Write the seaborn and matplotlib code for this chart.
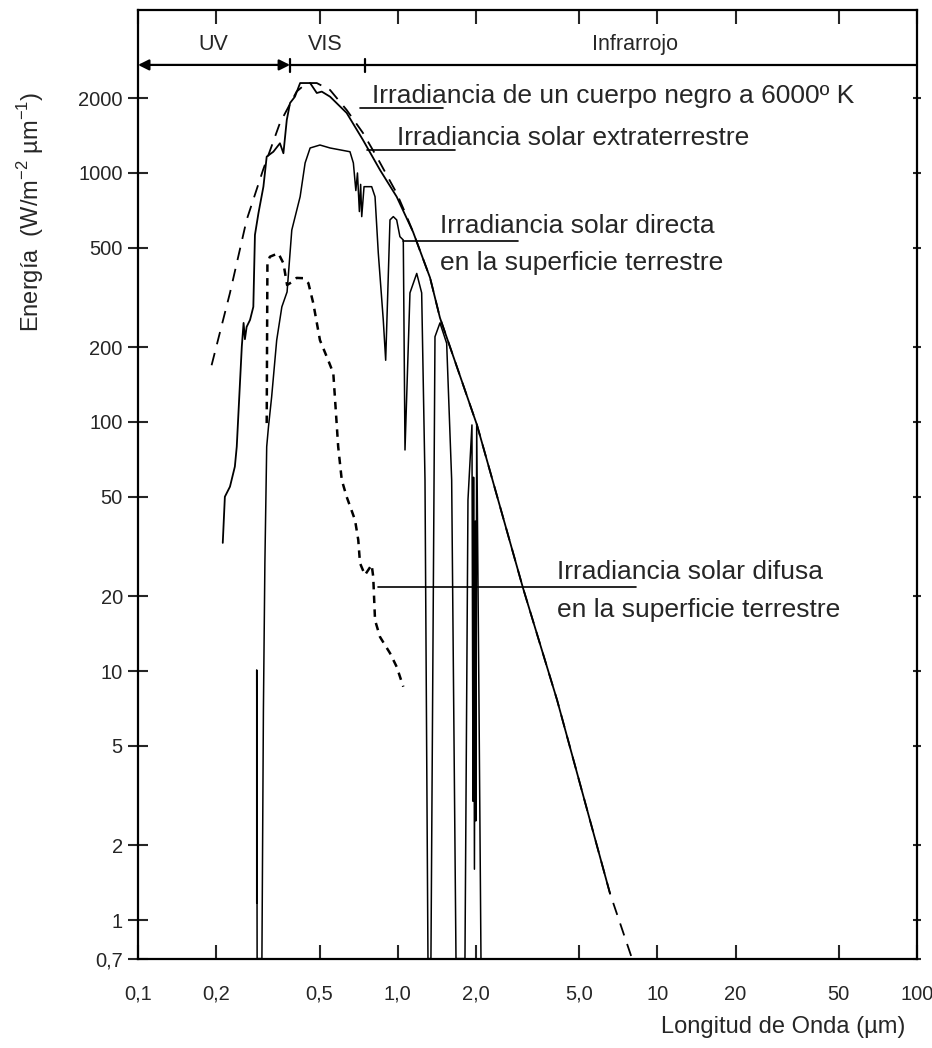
import matplotlib.pyplot as plt
from matplotlib.ticker import NullLocator
import seaborn as sns

# longitud de onda (um) / irradiancia (W m-2 um-1)
bb_wl = [0.192, 0.226, 0.262, 0.303, 0.352, 0.408, 0.446, 0.488, 0.549, 0.636,
         0.735, 0.830, 0.991, 1.07, 1.146, 1.332, 1.455, 2.02, 3.04, 4.11, 6.57, 7.99]
bb_irr = [169, 330, 648, 1028, 1588, 2122, 2297, 2297, 2154, 1791,
          1448, 1163, 830, 690, 580, 380, 262, 97.3, 21.5, 7.65, 1.28, 0.70]

et_wl = [0.212, 0.216, 0.226, 0.236, 0.240, 0.251, 0.255, 0.258, 0.262, 0.270, 0.278,
         0.282, 0.291, 0.304, 0.313, 0.332, 0.352, 0.363, 0.374, 0.385, 0.402, 0.421,
         0.460, 0.488, 0.510, 0.549, 0.636, 0.735, 0.855, 0.991, 1.146, 1.332, 1.455,
         2.02, 3.04, 4.11, 6.57]
et_irr = [32.7, 50.1, 55.0, 66.2, 79.6, 201, 250, 215, 241, 257, 290,
          564, 691, 881, 1163, 1217, 1316, 1200, 1633, 1910, 2025, 2297,
          2297, 2095, 2122, 2025, 1742, 1357, 1028, 803, 580, 380, 262,
          97.3, 21.5, 7.65, 1.28]

dir_wl = [0.2865, 0.2865, 0.2875, 0.300, 0.304, 0.308, 0.313, 0.318, 0.327, 0.342,
          0.358, 0.375, 0.391, 0.421, 0.440, 0.460, 0.502, 0.549, 0.655, 0.675,
          0.690, 0.700, 0.712, 0.720, 0.727, 0.742, 0.794, 0.818, 0.842, 0.880,
          0.899, 0.914, 0.934, 0.962, 0.991, 1.02, 1.051, 1.067, 1.115, 1.184,
          1.237, 1.274, 1.308, 1.343, 1.392, 1.455, 1.544, 1.614, 1.677, 1.816,
          1.865, 1.932, 1.95, 1.96, 1.975, 1.99, 2.00, 2.015, 2.056, 2.093]
dir_irr = [1.17, 10.1, 0.7, 0.7, 6.97, 27.1, 79.6, 95.8, 126, 213,
           290, 333, 590, 803, 1097, 1260, 1295, 1260, 1217, 1097,
           850, 1000, 700, 900, 668, 881, 881, 803, 477, 257,
           177, 309, 648, 668, 648, 555, 538, 77.2, 330, 395,
           330, 58.5, 0.7, 0.7, 220, 250, 207, 58.5, 0.7, 0.7,
           48.6, 97.3, 3.0, 60, 1.6, 40, 2.5, 97, 7.65, 0.7]

dif_wl = [0.313, 0.315, 0.322, 0.347, 0.363, 0.375, 0.392, 0.408, 0.433, 0.453,
          0.473, 0.502, 0.540, 0.565, 0.573, 0.590, 0.609, 0.636, 0.685, 0.705,
          0.716, 0.748, 0.794, 0.805, 0.818, 0.855, 0.934, 0.991, 1.051]
dif_irr = [99, 435, 461, 476, 434, 355, 365, 379, 378, 361,
           300, 213, 177, 157, 126, 79.6, 58.5, 50.1, 40.4, 33.6,
           27.1, 24.3, 26.7, 23.9, 16.0, 13.7, 11.8, 10.4, 8.65]

y_ticks = [0.7, 1, 2, 5, 10, 20, 50, 100, 200, 500, 1000, 2000]
y_labels = ['0,7', '1', '2', '5', '10', '20', '50', '100', '200', '500', '1000', '2000']
x_ticks = [0.1, 0.2, 0.5, 1, 2, 5, 10, 20, 50, 100]
x_labels = ['0,1', '0,2', '0,5', '1,0', '2,0', '5,0', '10', '20', '50', '100']

band_y = 2716
band_edges = [0.385, 0.748]

sns.set_style('ticks')
plt.rcParams['font.family'] = ['Liberation Sans', 'DejaVu Sans']
plt.rcParams['mathtext.fontset'] = 'custom'
plt.rcParams['mathtext.rm'] = 'Liberation Sans'

fig = plt.figure(figsize=(9.32, 10.48), dpi=100)
ax = fig.add_axes([0.1481, 0.0853, 0.8358, 0.9052])

sns.lineplot(x=bb_wl, y=bb_irr, sort=False, estimator=None, color='k', lw=1.3,
             linestyle=(0, (7, 5)), ax=ax)
sns.lineplot(x=et_wl, y=et_irr, sort=False, estimator=None, color='k', lw=1.3, ax=ax)
sns.lineplot(x=dir_wl, y=dir_irr, sort=False, estimator=None, color='k', lw=1.1, ax=ax)
sns.lineplot(x=dif_wl, y=dif_irr, sort=False, estimator=None, color='k', lw=1.8,
             linestyle=(0, (3, 2.5)), ax=ax)

ax.set_xscale('log')
ax.set_yscale('log')
ax.set_xlim(0.1, 100)
ax.set_ylim(0.7, 4515)

ax.set_xticks(x_ticks)
ax.set_xticklabels(x_labels)
ax.set_yticks(y_ticks)
ax.set_yticklabels(y_labels)
ax.xaxis.set_minor_locator(NullLocator())
ax.yaxis.set_minor_locator(NullLocator())
ax.tick_params(axis='x', direction='in', length=10, width=1.5, top=True,
               pad=19, labelsize=14.5)
ax.tick_params(axis='y', direction='inout', length=14, width=1.5, right=True,
               pad=4, labelsize=14.5)
for t in ax.yaxis.get_major_ticks():
    t.tick2line.set_markersize(6)
for s in ax.spines.values():
    s.set_linewidth(1.6)
    s.set_color('k')

# banda UV / VIS / IR
ax.plot([band_edges[0], 100], [band_y, band_y], color='k', lw=1.6)
ax.annotate('', xy=(0.1, band_y), xytext=(band_edges[0], band_y),
            arrowprops=dict(arrowstyle='<|-|>', color='k', lw=1.6,
                            mutation_scale=16, shrinkA=0, shrinkB=0))
for e in band_edges:
    ax.plot([e, e], [2545, 2880], color='k', lw=1.6)
ax.text(0.1945, 3266, 'UV', ha='center', va='center', fontsize=15.5)
ax.text(0.525, 3266, 'VIS', ha='center', va='center', fontsize=15.5)
ax.text(8.2, 3266, 'Infrarrojo', ha='center', va='center', fontsize=15.5)

# rotulos de las curvas
fs = 19
ax.plot([0.716, 1.494], [1824, 1824], color='k', lw=1.2)
ax.text(0.796, 1910, 'Irradiancia de un cuerpo negro a 6000º K', fontsize=fs, va='baseline')
ax.plot([0.760, 1.662], [1237, 1237], color='k', lw=1.2)
ax.text(0.994, 1300, 'Irradiancia solar extraterrestre', fontsize=fs, va='baseline')
ax.plot([1.051, 2.905], [533, 533], color='k', lw=1.2)
ax.text(1.455, 574, 'Irradiancia solar directa', fontsize=fs, va='baseline')
ax.text(1.455, 408, 'en la superficie terrestre', fontsize=fs, va='baseline')
ax.plot([0.840, 8.27], [21.7, 21.7], color='k', lw=1.2)
ax.text(4.106, 23.5, 'Irradiancia solar difusa', fontsize=fs, va='baseline')
ax.text(4.106, 16.5, 'en la superficie terrestre', fontsize=fs, va='baseline')

ax.set_xlabel('Longitud de Onda (µm)', fontsize=17, loc='right')
ax.xaxis.set_label_coords(0.985, -0.060)
ax.set_ylabel('Energía  (W/m$^{-2}$ µm$^{-1}$)', fontsize=17)
ax.yaxis.set_label_coords(-0.118, 0.787)

fig.savefig('out.png', dpi=100)
